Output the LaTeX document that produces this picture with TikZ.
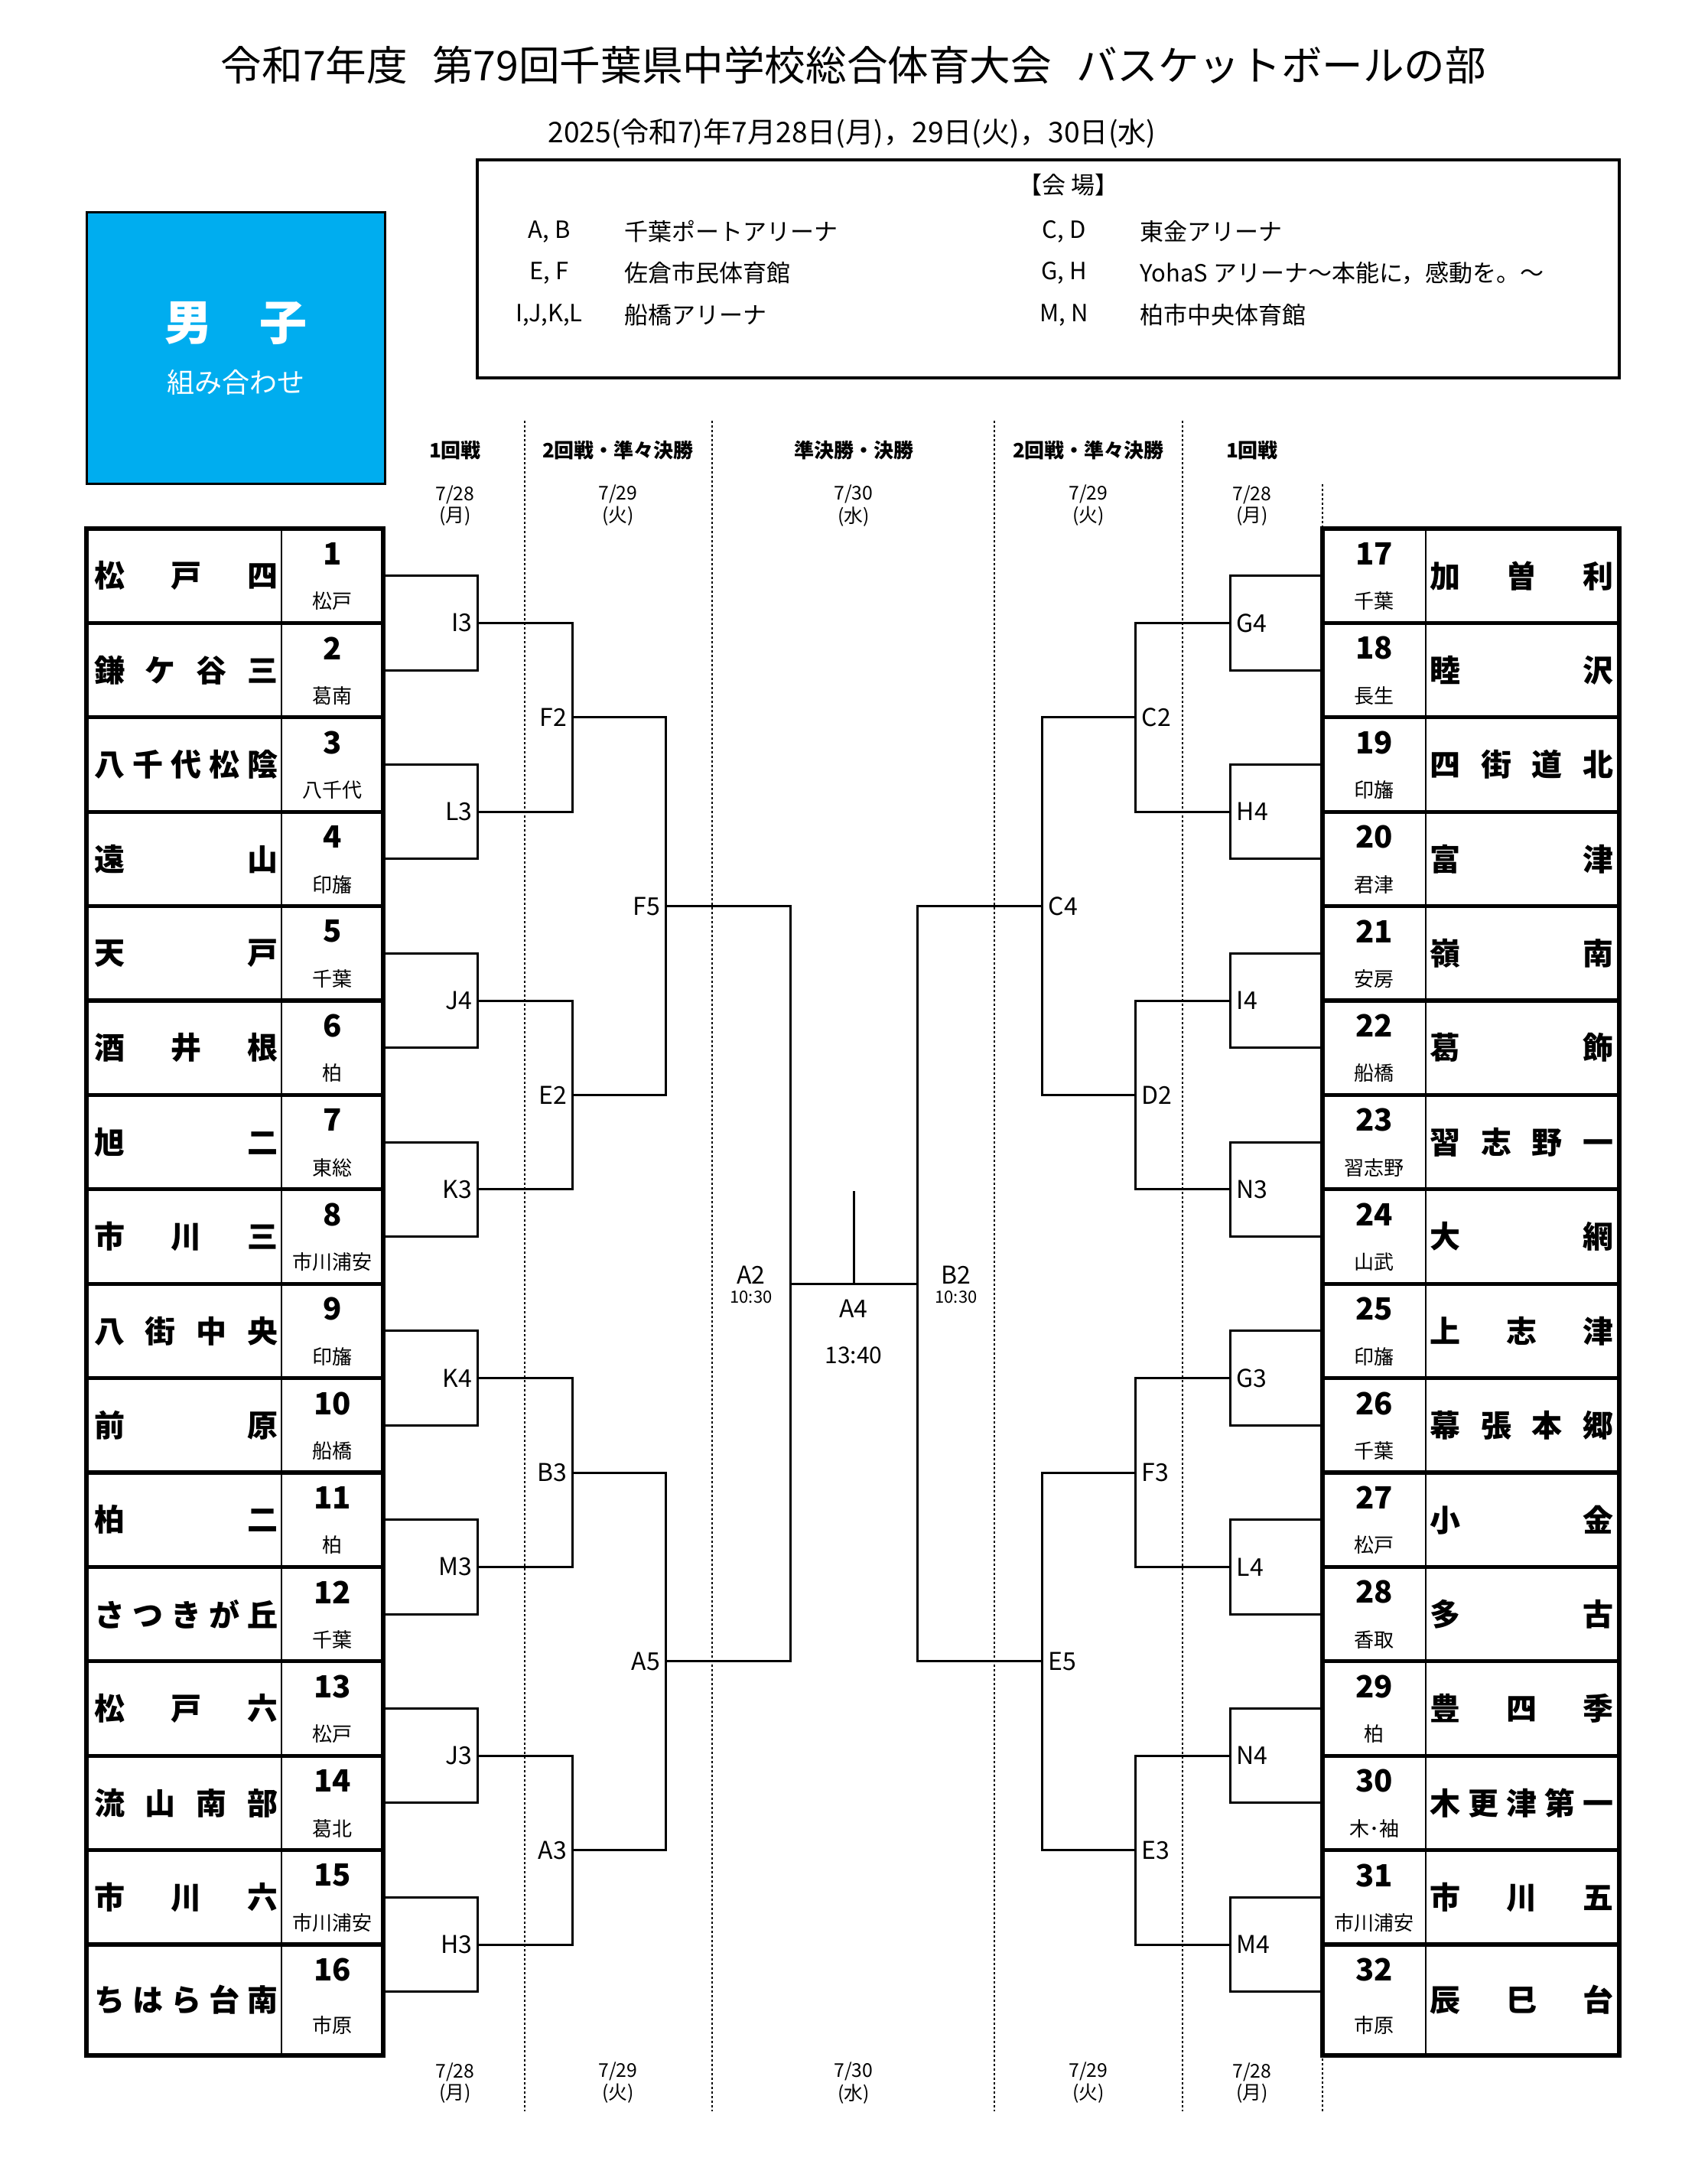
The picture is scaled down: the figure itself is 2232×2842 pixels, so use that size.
\documentclass[tikz,border=0pt]{standalone}
\usepackage{fontspec}
\setmainfont{Noto Sans CJK JP}
\definecolor{boyblue}{RGB}{0,173,239}
\newcommand\fsz[1]{\fontsize{#1}{#1}\selectfont}
\begin{document}
\begin{tikzpicture}[x=0.25pt,y=-0.25pt,
  thickln/.style={line width=1.3pt},
  thinln/.style={line width=0.5pt},
  br/.style={line width=0.75pt},
  dotln/.style={line width=0.55pt,dash pattern=on 0.7pt off 0.8pt},
  tname/.style={inner sep=0pt,font=\bfseries\fsz{10}},
  tno/.style={inner sep=0pt,font=\bfseries\fsz{10}},
  treg/.style={inner sep=0pt,font=\fsz{6.5}},
  lblL/.style={anchor=east,inner sep=0pt,font=\fsz{8},xshift=-1.5pt},
  lblR/.style={anchor=west,inner sep=0pt,font=\fsz{8},xshift=2pt},
  head/.style={inner sep=0pt,font=\bfseries\fsz{6.5}},
  dateh/.style={inner sep=0pt,align=center,font=\fontsize{6.2}{5.6}\selectfont},
  venue/.style={inner sep=0pt,font=\fsz{7.75}},
  venuew/.style={venue,anchor=west},
]
\fill[white] (0,0) rectangle (2232,2842);
\useasboundingbox (0,0) rectangle (2232,2842);

% title
\node[font=\fsz{13.4}] (title) at (1116,85) {令和7年度\hspace{0.6em}第79回千葉県中学校総合体育大会\hspace{0.6em}バスケットボールの部};
\node[font=\fsz{9.3}] (dates) at (1114,174) {2025(令和7)年7月28日(月)，29日(火)，30日(水)};

% venue box
\draw[line width=0.8pt] (624,209) rectangle (2117,494);
\node[venue] (vhead) at (1397,242) {【会 場】};
\node[venue] (vAB) at (718,303) {A, B};
\node[venuew] (vABn) at (816,303) {千葉ポートアリーナ};
\node[venue] (vEF) at (718,357) {E, F};
\node[venuew] (vEFn) at (816,357) {佐倉市民体育館};
\node[venue] (vIL) at (718,412) {I,J,K,L};
\node[venuew] (vILn) at (816,412) {船橋アリーナ};
\node[venue] (vCD) at (1391,303) {C, D};
\node[venuew] (vCDn) at (1490,303) {東金アリーナ};
\node[venue] (vGH) at (1391,357) {G, H};
\node[venuew] (vGHn) at (1490,357) {YohaS アリーナ～本能に，感動を。～};
\node[venue] (vMN) at (1391,412) {M, N};
\node[venuew] (vMNn) at (1490,412) {柏市中央体育館};

% blue box
\draw[line width=0.75pt,fill=boyblue] (113,277) rectangle (503,632);
\node[font=\bfseries\fsz{15.5},text=white,inner sep=0pt] (boys) at (308,422) {男　子};
\node[font=\fsz{9},text=white,inner sep=0pt] (kumi) at (308,500) {組み合わせ};

% dotted column lines
\foreach \x in {686,931,1300,1546} \draw[dotln] (\x,550) -- (\x,2760);
\draw[dotln] (1729,633) -- (1729,2760);

% headers
\node[head] (h1) at (595,589) {1回戦};
\node[head] (h2) at (808,589) {2回戦・準々決勝};
\node[head] (h3) at (1116,589) {準決勝・決勝};
\node[head] (h4) at (1423,589) {2回戦・準々決勝};
\node[head] (h5) at (1637,589) {1回戦};
\node[dateh] (d1) at (595,661) {7/28\\(月)};
\node[dateh] (d2) at (808,661) {7/29\\(火)};
\node[dateh] (d3) at (1116,661) {7/30\\(水)};
\node[dateh] (d4) at (1423,661) {7/29\\(火)};
\node[dateh] (d5) at (1637,661) {7/28\\(月)};
\node[dateh] (e1) at (595,2723) {7/28\\(月)};
\node[dateh] (e2) at (808,2723) {7/29\\(火)};
\node[dateh] (e3) at (1116,2723) {7/30\\(水)};
\node[dateh] (e4) at (1423,2723) {7/29\\(火)};
\node[dateh] (e5) at (1637,2723) {7/28\\(月)};

% tables
\foreach \xa/\xd/\xb in {113/368/501,1729/1864/2117}{
  \draw[thinln] (\xd,691) -- (\xd,2687);
  \foreach \i in {1,...,15} \draw[thickln] (\xa,{691+\i*123.4}) -- (\xb,{691+\i*123.4});
  \draw[thickln] (\xa,691) rectangle (\xb,2687);
}

% left teams
\foreach \i/\nm/\rg in {
 1/松\hfill 戸\hfill 四/松戸,
 2/鎌\hfill ケ\hfill 谷\hfill 三/葛南,
 3/八\hfill 千\hfill 代\hfill 松\hfill 陰/八千代,
 4/遠\hfill 山/印旛,
 5/天\hfill 戸/千葉,
 6/酒\hfill 井\hfill 根/柏,
 7/旭\hfill 二/東総,
 8/市\hfill 川\hfill 三/市川浦安,
 9/八\hfill 街\hfill 中\hfill 央/印旛,
 10/前\hfill 原/船橋,
 11/柏\hfill 二/柏,
 12/さ\hfill つ\hfill き\hfill が\hfill 丘/千葉,
 13/松\hfill 戸\hfill 六/松戸,
 14/流\hfill 山\hfill 南\hfill 部/葛北,
 15/市\hfill 川\hfill 六/市川浦安,
 16/ち\hfill は\hfill ら\hfill 台\hfill 南/市原}{
  \pgfmathsetmacro\rowT{691+(\i-1)*123.4}
  \pgfmathsetmacro\rowH{ifthenelse(\i==16,145,123.4)}
  \node[tname] (nmL\i) at (243,{\rowT+\rowH/2}) {\makebox[60pt]{\nm}};
  \node[tno] (noL\i) at (434.5,{\rowT+33}) {\i};
  \node[treg] (rgL\i) at (434.5,{\rowT+95+(\rowH-123.4)/2}) {\rg};
}

% right teams
\foreach \i/\nm/\rg in {
 1/加\hfill 曽\hfill 利/千葉,
 2/睦\hfill 沢/長生,
 3/四\hfill 街\hfill 道\hfill 北/印旛,
 4/富\hfill 津/君津,
 5/嶺\hfill 南/安房,
 6/葛\hfill 飾/船橋,
 7/習\hfill 志\hfill 野\hfill 一/習志野,
 8/大\hfill 網/山武,
 9/上\hfill 志\hfill 津/印旛,
 10/幕\hfill 張\hfill 本\hfill 郷/千葉,
 11/小\hfill 金/松戸,
 12/多\hfill 古/香取,
 13/豊\hfill 四\hfill 季/柏,
 14/木\hfill 更\hfill 津\hfill 第\hfill 一/木･袖,
 15/市\hfill 川\hfill 五/市川浦安,
 16/辰\hfill 巳\hfill 台/市原}{
  \pgfmathsetmacro\rowT{691+(\i-1)*123.4}
  \pgfmathsetmacro\rowH{ifthenelse(\i==16,145,123.4)}
  \pgfmathtruncatemacro\num{\i+16}
  \node[tname] (nmR\i) at (1989.5,{\rowT+\rowH/2}) {\makebox[60pt]{\nm}};
  \node[tno] (noR\i) at (1796.5,{\rowT+33}) {\num};
  \node[treg] (rgR\i) at (1796.5,{\rowT+95+(\rowH-123.4)/2}) {\rg};
}

% bracket coordinates
\foreach \i in {1,...,16}{
  \coordinate (pL\i) at (501,{691+(\i-0.5)*123.4});
  \coordinate (pR\i) at (1729,{691+(\i-0.5)*123.4});
}
\foreach \k in {1,...,8}{
  \coordinate (r1L\k) at (624,{691+(2*\k-1)*123.4});
  \coordinate (r1R\k) at (1608,{691+(2*\k-1)*123.4});
}
\foreach \k in {1,...,4}{
  \coordinate (r2L\k) at (748,{691+(4*\k-2)*123.4});
  \coordinate (r2R\k) at (1484,{691+(4*\k-2)*123.4});
}
\foreach \k in {1,2}{
  \coordinate (r3L\k) at (870,{691+(8*\k-4)*123.4});
  \coordinate (r3R\k) at (1362,{691+(8*\k-4)*123.4});
}
\coordinate (sfL) at (1033,{691+8*123.4});
\coordinate (sfR) at (1199,{691+8*123.4});
\coordinate (fin) at (1116,{691+8*123.4});
\coordinate (fintop) at (1116,1557);

% bracket lines
\foreach \k in {1,...,8}{
  \pgfmathtruncatemacro\u{2*\k-1}
  \pgfmathtruncatemacro\v{2*\k}
  \draw[br] (pL\u) -| (r1L\k) |- (pL\v);
  \draw[br] (pR\u) -| (r1R\k) |- (pR\v);
}
\foreach \k in {1,...,4}{
  \pgfmathtruncatemacro\u{2*\k-1}
  \pgfmathtruncatemacro\v{2*\k}
  \draw[br] (r1L\u) -| (r2L\k) |- (r1L\v);
  \draw[br] (r1R\u) -| (r2R\k) |- (r1R\v);
}
\foreach \k in {1,2}{
  \pgfmathtruncatemacro\u{2*\k-1}
  \pgfmathtruncatemacro\v{2*\k}
  \draw[br] (r2L\u) -| (r3L\k) |- (r2L\v);
  \draw[br] (r2R\u) -| (r3R\k) |- (r2R\v);
}
\draw[br] (r3L1) -| (sfL) |- (r3L2);
\draw[br] (r3R1) -| (sfR) |- (r3R2);
\draw[br] (sfL) -- (sfR);
\draw[br] (fin) -- (fintop);

% match labels
\foreach \k/\lab in {1/I3,2/L3,3/J4,4/K3,5/K4,6/M3,7/J3,8/H3}
  \node[lblL] (m\lab) at (r1L\k) {\lab};
\foreach \k/\lab in {1/G4,2/H4,3/I4,4/N3,5/G3,6/L4,7/N4,8/M4}
  \node[lblR] (m\lab) at (r1R\k) {\lab};
\foreach \k/\lab in {1/F2,2/E2,3/B3,4/A3}
  \node[lblL] (m\lab) at (r2L\k) {\lab};
\foreach \k/\lab in {1/C2,2/D2,3/F3,4/E3}
  \node[lblR] (m\lab) at (r2R\k) {\lab};
\node[lblL] (mF5) at (r3L1) {F5};
\node[lblL] (mA5) at (r3L2) {A5};
\node[lblR] (mC4) at (r3R1) {C4};
\node[lblR] (mE5) at (r3R2) {E5};

\node[font=\fsz{8},inner sep=0pt] (mA2) at (982,1667) {A2};
\node[font=\fsz{5.5},inner sep=0pt] (tA2) at (982,1696) {10:30};
\node[font=\fsz{8},inner sep=0pt] (mA4) at (1116,1711) {A4};
\node[font=\fsz{7.5},inner sep=0pt] (tA4) at (1116,1772) {13:40};
\node[font=\fsz{8},inner sep=0pt] (mB2) at (1250,1667) {B2};
\node[font=\fsz{5.5},inner sep=0pt] (tB2) at (1250,1696) {10:30};
\end{tikzpicture}
\end{document}
